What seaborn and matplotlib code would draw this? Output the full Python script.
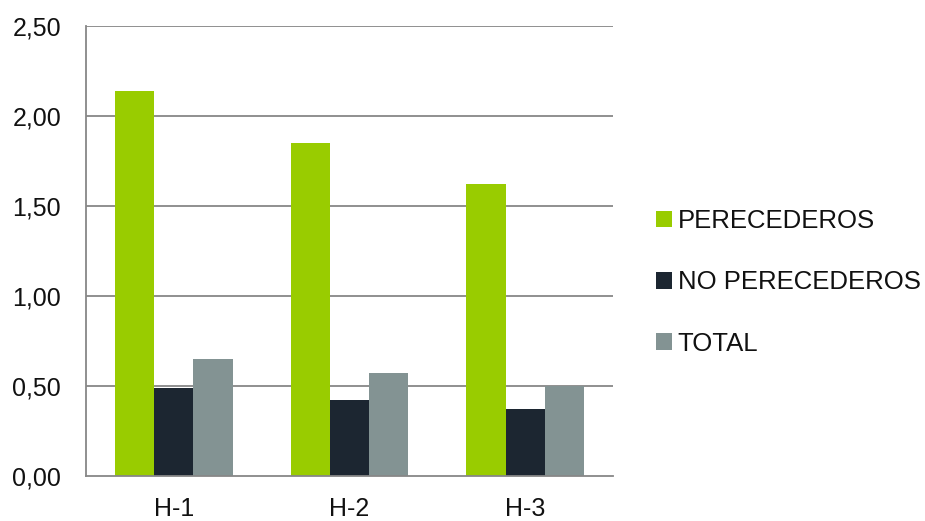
import matplotlib
matplotlib.use("Agg")
import matplotlib.pyplot as plt
import seaborn as sns
import pandas as pd
from matplotlib.patches import Patch

categories = ["H-1", "H-2", "H-3"]
series_names = ["PERECEDEROS", "NO PERECEDEROS", "TOTAL"]
perecederos = [2.14, 1.85, 1.62]
no_perecederos = [0.49, 0.42, 0.37]
total = [0.65, 0.57, 0.50]
colors = ["#99CC00", "#1C2631", "#839393"]
y_ticks = [0.0, 0.5, 1.0, 1.5, 2.0, 2.5]
y_tick_labels = ["0,00", "0,50", "1,00", "1,50", "2,00", "2,50"]

rows = []
for name, vals in zip(series_names, [perecederos, no_perecederos, total]):
    for c, v in zip(categories, vals):
        rows.append({"cat": c, "serie": name, "valor": v})
df = pd.DataFrame(rows)

sns.set_style("white")
plt.rcParams["font.family"] = ["Liberation Sans", "DejaVu Sans"]

W, H = 925, 521
fig = plt.figure(figsize=(W / 100, H / 100), dpi=100)
ax = fig.add_axes([86 / W, (H - 476) / H, (613 - 86) / W, 450 / H])

sns.barplot(data=df, x="cat", y="valor", hue="serie", hue_order=series_names,
            order=categories, palette=colors, width=0.67, saturation=1,
            linewidth=0, ax=ax, legend=False, zorder=3)

grid_color = "#878787"
ax.set_ylim(0, 2.5)
ax.set_xlim(-0.5, 2.5)
ax.set_yticks(y_ticks)
ax.set_yticklabels(y_tick_labels)
for y in y_ticks[1:]:
    ax.axhline(y, color=grid_color, lw=1.3, zorder=1)

ax.set_xticks([-0.5, 0.5, 1.5, 2.5])
ax.set_xticklabels([])
ax.set_xticks([0, 1, 2], minor=True)
ax.set_xticklabels(categories, minor=True)
ax.tick_params(axis="x", which="major", direction="out", length=6, width=1.3, color=grid_color)
ax.tick_params(axis="x", which="minor", length=0, pad=15, labelsize=18, labelcolor="#111111")
ax.tick_params(axis="y", direction="out", length=7, width=1.3, color=grid_color, pad=11,
               labelsize=18, labelcolor="#111111")
ax.set_xlabel("")
ax.set_ylabel("")

for s in ["top", "right"]:
    ax.spines[s].set_visible(False)
for s in ["left", "bottom"]:
    ax.spines[s].set_color(grid_color)
    ax.spines[s].set_linewidth(1.3)
    ax.spines[s].set_zorder(4)

handles = [Patch(facecolor=c, edgecolor="none", label=n) for c, n in zip(colors, series_names)]
leg = fig.legend(handles=handles, loc="upper left", bbox_to_anchor=(656 / W, 1 - 209 / H),
                 frameon=False, fontsize=18.5, handlelength=0.62, handleheight=0.62,
                 handletextpad=0.22, labelspacing=1.45, borderaxespad=0, borderpad=0)
for t in leg.get_texts():
    t.set_color("#111111")

fig.savefig("out.png", dpi=100)
